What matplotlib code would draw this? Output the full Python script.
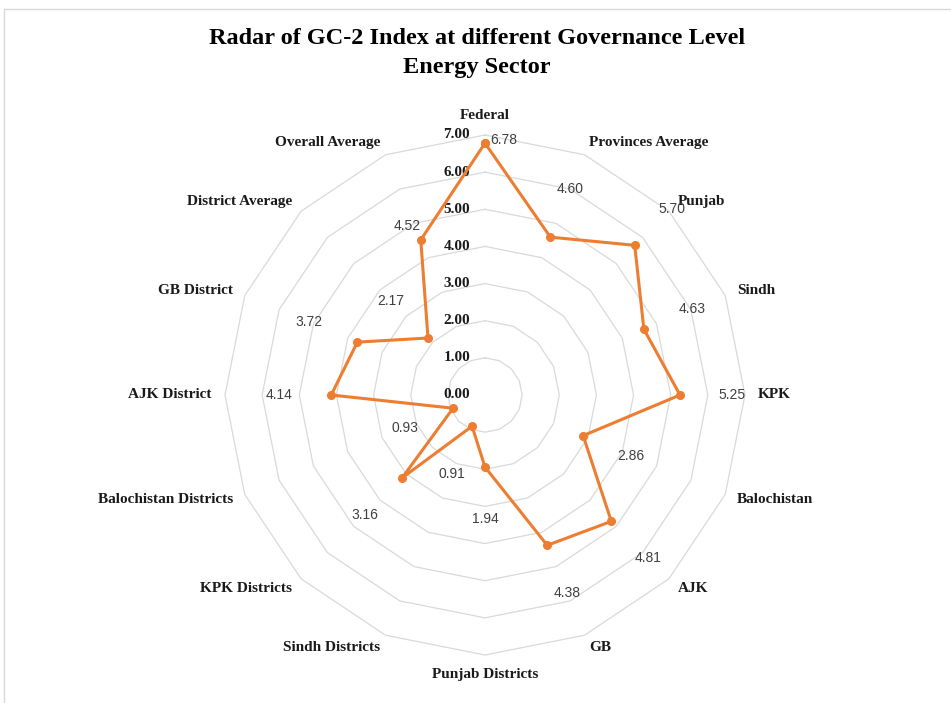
import numpy as np
import matplotlib.pyplot as plt

# GC-2 index per governance level, clockwise from the top
categories = ['Federal', 'Provinces Average', 'Punjab', 'Sindh', 'KPK', 'Balochistan',
              'AJK', 'GB', 'Punjab Districts', 'Sindh Districts', 'KPK Districts',
              'Balochistan Districts', 'AJK District', 'GB District', 'District Average',
              'Overall Average']
values = [6.78, 4.60, 5.70, 4.63, 5.25, 2.86, 4.81, 4.38, 1.94, 0.91, 3.16,
          0.93, 4.14, 3.72, 2.17, 4.52]
ring_levels = [0, 1, 2, 3, 4, 5, 6, 7]
ring_labels = ['0.00', '1.00', '2.00', '3.00', '4.00', '5.00', '6.00', '7.00']

W, H = 951, 703
cx, cy = 485, 395          # web centre in pixels
ppu = 260 / 7              # pixels per index unit

orange = '#ED7D31'
grid_col = '#D9D9D9'
serif = 'Liberation Serif'
sans = 'Liberation Sans'

fig = plt.figure(figsize=(W / 100, H / 100), dpi=100)
ax = fig.add_axes([0, 0, 1, 1])
ax.set_xlim(-cx / ppu, (W - cx) / ppu)
ax.set_ylim(-(H - cy) / ppu, cy / ppu)
ax.axis('off')

n = len(categories)
ang = np.arange(n) * 2 * np.pi / n
sx, sy = np.sin(ang), np.cos(ang)
sxc, syc = np.append(sx, sx[0]), np.append(sy, sy[0])

# polygon gridlines
for lvl in ring_levels[1:]:
    ax.plot(sxc * lvl, syc * lvl, color=grid_col, lw=0.9, zorder=1)

# radial scale, just left of the Federal spoke
for lvl, lab in zip(ring_levels, ring_labels):
    ax.text(-0.40, lvl, lab, ha='right', va='center', fontsize=11,
            fontfamily=serif, fontweight='bold', color='#1a1a1a', zorder=3)

# category labels round the outside
lab_r = 7.35
for i, cat in enumerate(categories):
    s, c = sx[i], sy[i]
    if abs(s) < 0.1:
        ha = 'center'
        va = 'bottom' if c > 0 else 'top'
    else:
        ha = 'left' if s > 0 else 'right'
        va = 'center'
    ax.text(s * lab_r, c * lab_r, cat, ha=ha, va=va, fontsize=11,
            fontfamily=serif, fontweight='bold', color='#1a1a1a')

# the series
vals = np.array(values)
ax.plot(np.append(sx * vals, sx[0] * vals[0]), np.append(sy * vals, sy[0] * vals[0]),
        color=orange, lw=2.2, marker='o', ms=5.5, zorder=4)

# value labels: pushed out along the spoke, a couple nudged by hand
nudge = {'Federal': (5, 3, 'left'), 'Overall Average': (-14, 14, 'center')}
for i, cat in enumerate(categories):
    v = values[i]
    txt = f'{v:.2f}'
    if cat in nudge:
        dx, dy, ha = nudge[cat]
        ax.annotate(txt, (sx[i] * v, sy[i] * v), xytext=(dx, dy),
                    textcoords='offset pixels', ha=ha, va='center',
                    fontsize=10, fontfamily=sans, color='#404040', zorder=5)
    else:
        r = v + 1.4
        ax.text(sx[i] * r, sy[i] * r, txt, ha='center', va='center',
                fontsize=10, fontfamily=sans, color='#404040', zorder=5)

# chart frame (right and bottom edges run off the image)
fig.add_artist(plt.Line2D([4 / W, 1], [1 - 9 / H, 1 - 9 / H], color=grid_col, lw=1))
fig.add_artist(plt.Line2D([4 / W, 4 / W], [0, 1 - 9 / H], color=grid_col, lw=1))

fig.text(477 / W, 1 - 38 / H, 'Radar of GC-2 Index at different Governance Level',
         ha='center', va='center', fontsize=17.5, fontfamily=serif, fontweight='bold')
fig.text(477 / W, 1 - 68 / H, 'Energy Sector',
         ha='center', va='center', fontsize=17.5, fontfamily=serif, fontweight='bold')

fig.savefig('out.png', dpi=100)
